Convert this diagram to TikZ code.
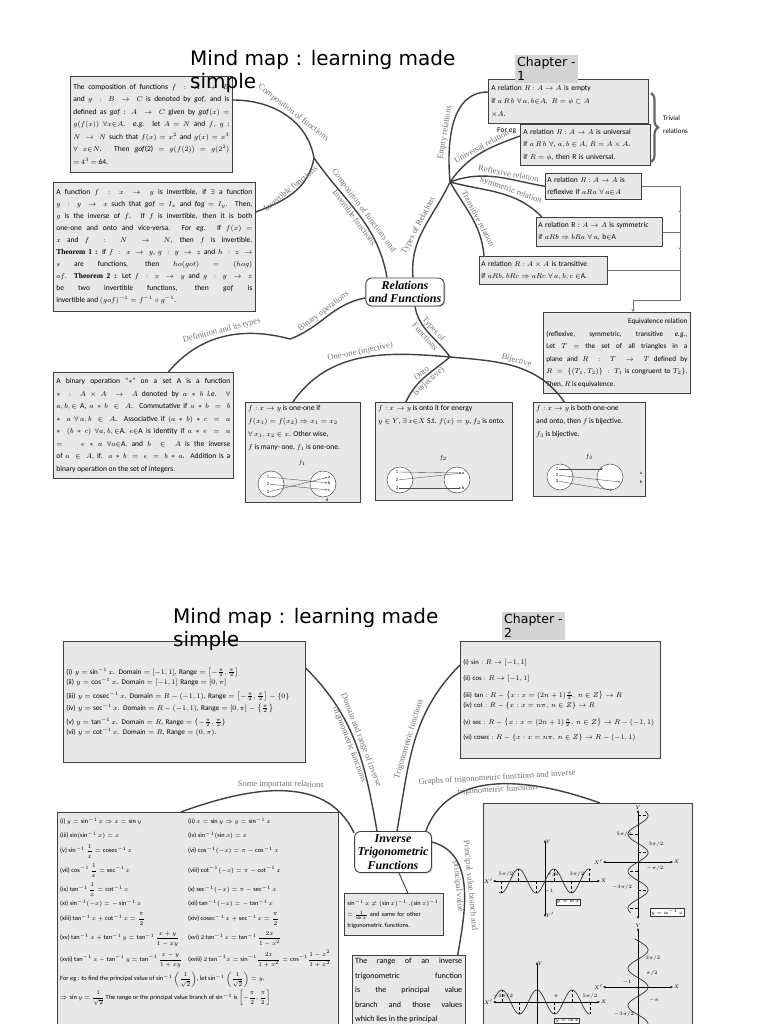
\documentclass[tikz,border=0pt]{standalone}
\usepackage{amsmath, amssymb}
\usepackage{fontspec}
\setmainfont{Carlito}
\newfontfamily\headfont{DejaVu Sans}
\newfontfamily\seriffont{Liberation Serif}
\usetikzlibrary{arrows.meta, positioning, calc, shadows, decorations.pathreplacing}

\tikzset{
  infobox/.style={draw=black!75, fill=black!9, line width=0.7pt, anchor=north west,
    inner sep=3pt, align=left, font=\fontsize{7.5}{12.5}\selectfont},
  panel/.style={draw=black!75, fill=black!9, line width=0.7pt, anchor=north west, inner sep=0pt},
  note/.style={anchor=north west, inner sep=3pt, align=left, font=\fontsize{7.5}{13}\selectfont},
  hub/.style={draw=black!75, fill=white, line width=0.9pt, rounded corners=6pt,
    align=center, inner sep=3pt, font=\seriffont\bfseries\itshape\fontsize{12}{13.5}\selectfont,
    drop shadow={shadow xshift=1.2pt, shadow yshift=-1.2pt, opacity=0.35}},
  branch/.style={draw=black!75, line width=1.4pt},
  blabel/.style={font=\seriffont\fontsize{8.5}{8.5}\selectfont, text=black!55, sloped, inner sep=1.5pt},
  rail/.style={draw=black!55, line width=0.5pt},
  headline/.style={anchor=north west, align=left, inner sep=0pt, font=\headfont\fontsize{20}{23}\selectfont},
  chapter/.style={anchor=north west, align=left, fill=black!17, inner sep=2pt,
    font=\headfont\fontsize{12.5}{14}\selectfont},
  setcirc/.style={draw=black!70, line width=0.5pt, circle, minimum size=26pt, fill=white},
  elem/.style={font=\fontsize{4.5}{4.5}\selectfont, inner sep=0.5pt},
  maparrow/.style={draw=black!70, line width=0.35pt, -{Stealth[length=2pt, width=1.6pt]}},
  axis/.style={draw=black, line width=0.6pt, {Stealth[length=3pt]}-{Stealth[length=3pt]}},
  wave/.style={draw=black!80, line width=0.7pt},
  tick/.style={font=\fontsize{3.5}{3.5}\selectfont, inner sep=0.3pt},
  tagbox/.style={draw=black!80, fill=white, font=\fontsize{3.8}{4}\selectfont, inner sep=1pt},
}

\begin{document}
\begin{tikzpicture}[x=1pt, y=1pt]
\useasboundingbox (0,0) rectangle (768,-1024);
\clip (0,0) rectangle (768,-1024);
\fill[white] (0,0) rectangle (768,-1024);

%% ---------------- Chapter 1 : relations and functions ----------------
\node[hub] (rel) at (405,-292) {Relations\\and Functions};

\coordinate (jcomp) at (314,-158);
\coordinate (jrel) at (450,-182);
\coordinate (jbin) at (290,-339);
\coordinate (jfun) at (450,-357);

% boxes
\node[infobox, align=justify, text width=156pt, minimum height=96pt] (comp) at (70,-76) {%
The composition of functions $f : A\to B$\linebreak
and $g : B \to C$ is denoted by \textit{gof}, and is\linebreak
defined as \textit{gof} : $A\to C$ given by \textit{gof}$(x)$ $=$\linebreak
$g(f(x))$ $\forall x{\in}A$. \textit{e.g.} let $A$ $=$ $N$ and $f$, $g$ :\linebreak
$N\to N$ such that $f(x)$ $=$ $x^2$ and $g(x)$ $=$ $x^3$\linebreak
$\forall$ $x{\in}N$. Then \textit{gof}(2) $=$ $g(f(2))$ $=$ $g(2^2)$\linebreak
$=$ $4^3$ $=$ 64.};

\node[infobox, align=justify, text width=196pt, minimum height=129pt,
  font=\fontsize{7.5}{12}\selectfont] (inv) at (53,-182) {%
A function $f : x\to y$ is invertible, if $\exists$ a function\linebreak
$g : y\to x$ such that \textit{gof} $=$ $I_x$ and \textit{fog} $=$ $I_y$. Then,\linebreak
$g$ is the inverse of $f$. If $f$ is invertible, then it is both\linebreak
one-one and onto and vice-versa. For \textit{eg.} If $f(x)$ $=$\linebreak
$x$ and $f : N\to N$, then $f$ is invertible.\linebreak
{\seriffont\bfseries Theorem 1 :} If $f : x\to y$, $g : y\to z$ and $h : z\to$\linebreak
$s$ are functions, then $ho(got)$ $=$ $(hog)$\linebreak
$of$. {\seriffont\bfseries Theorem 2 :} Let $f : x\to y$ and $g : y\to z$\linebreak
be two invertible functions, then \textit{gof} is\linebreak
invertible and $(gof)^{-1} = f^{-1}\circ g^{-1}$.};

\node[infobox, align=justify, text width=174pt, minimum height=106pt] (binop) at (53,-372) {%
A binary operation ``$*$'' on a set A is a function\linebreak
$* : A\times A\to A$ denoted by $a * b$ \textit{i.e.} $\forall$\linebreak
$a,b,\in$ A, $a*b\in A$. Commutative if $a*b = b$\linebreak
$*\;a$ $\forall\, a,b\in A$. Associative if $(a*b)*c = a$\linebreak
$*\;(b*c)$ $\forall a,b,\in$A. $e{\in}$A is identity if $a*e = a$\linebreak
$=\; e*a$ $\forall a{\in}$A. and $b\in A$ is the inverse\linebreak
of $a\in A$, if. $a*b = e = b*a$. Addition is a\linebreak
binary operation on the set of integers.};

\node[panel, minimum width=115pt, minimum height=100pt] (oneone) at (245,-402) {};
\node[note] (oneonetxt) at (oneone.north west) {%
$f : x\to y$ is one-one if\\
$f(x_1) = f(x_2)\Rightarrow x_1 = x_2$\\
$\forall\, x_1, x_2\in x$. Other wise,\\
$f$ is many- one, $f_1$ is one-one.};
\node[elem, font=\fontsize{6}{6}\selectfont] (fone) at (302,-463) {$f_1$};

\node[panel, minimum width=137pt, minimum height=98pt] (onto) at (375,-402) {};
\node[note] (ontotxt) at (onto.north west) {%
$f : x\to y$ is onto it for energy\\
$y\in Y$, $\exists\, x{\in}X$ S.t. $f(x) = y$, $f_2$ is onto.};
\node[elem, font=\fontsize{6}{6}\selectfont] (ftwo) at (443,-458) {$f_2$};

\node[panel, minimum width=112pt, minimum height=94pt] (bij) at (533,-402) {};
\node[note] (bijtxt) at (bij.north west) {%
$f : x\to y$ is both one-one\\
and onto, then $f$ is bijective.\\
$f_3$ is bijective.};
\node[elem, font=\fontsize{6}{6}\selectfont] (fthree) at (589,-457) {$f_3$};

% mapping pictures
\node[setcirc] (dom1) at (271,-484) {};
\node[setcirc] (cod1) at (323,-484) {};
\node[elem] (o1) at (268,-477) {1};
\node[elem] (o2) at (268,-484) {2};
\node[elem] (o3) at (268,-492) {3};
\node[elem] (ia) at (329,-477) {a};
\node[elem] (ib) at (329,-483) {b};
\node[elem] (ic) at (329,-490) {c};
\node[elem] (id) at (327,-500) {d};
\draw[maparrow] (o1) -- (ib);
\draw[maparrow] (o2) -- (ic);
\draw[maparrow] (o3) -- (ia);

\node[setcirc] (dom2) at (400,-480) {};
\node[setcirc] (cod2) at (457,-480) {};
\node[elem] (p1) at (397,-472) {1};
\node[elem] (p2) at (397,-480) {2};
\node[elem] (p3) at (397,-488) {3};
\node[elem] (qa) at (463,-473) {a};
\node[elem] (qb) at (463,-488) {b};
\draw[maparrow] (p1) -- (qa);
\draw[maparrow] (p2) -- (qa);
\draw[maparrow] (p3) -- (qb);

\node[setcirc] (dom3) at (560,-477) {};
\node[setcirc] (cod3) at (610,-477) {};
\node[elem] (s1) at (557,-469) {1};
\node[elem] (s2) at (557,-475) {2};
\node[elem] (s3) at (557,-481) {3};
\node[elem] (tc) at (611,-490) {c};
\node[elem] (ta) at (641,-473) {a};
\node[elem] (tb) at (641,-482) {b};
\coordinate (u1) at (603,-469);
\coordinate (u2) at (620,-482);
\draw[maparrow] (s1) -- (u1);
\draw[maparrow] (s2) -- (u2);
\draw[maparrow] (s3) -- (tc);

% relations side
\node[infobox, text width=154pt, minimum height=44pt, font=\fontsize{7.5}{13}\selectfont] (empty) at (488,-79) {%
A relation $R : A\to A$ is empty\\
if $a\,R\,b$ $\forall\, a, b{\in} A$. $R = \phi\subset A$\\
$\times A$.};
\node[note, anchor=west, inner sep=0pt] (foreg) at (497,-131) {For eg};
\node[infobox, text width=124pt, minimum height=41pt] (univ) at (520,-124) {%
A relation $R : A\to A$ is universal\\
if $a\,R\,b$ $\forall$, $a,b\in A$, $R = A\times A$.\\
if $R = \phi$, then R is universal.};
\node[note, inner sep=0pt, font=\fontsize{7}{13}\selectfont] (trivial) at (663,-115) {Trivial\\relations};
\draw[decorate, decoration={brace, amplitude=7pt}, line width=2.2pt, black!60] (651,-93) -- (651,-162);

\node[infobox, text width=92pt, minimum height=26pt, inner sep=2pt,
  font=\fontsize{7.5}{12}\selectfont] (refl) at (545,-173) {%
A relation $R : A\to A$ is\\ reflexive if $aRa$ $\forall\, a{\in}A$};
\node[infobox, text width=122pt, minimum height=29pt, inner sep=2pt,
  font=\fontsize{7.5}{12}\selectfont] (symm) at (536,-217) {%
A relation R : $A\to A$ is symmetric\\ if $aRb\Rightarrow bRa$ $\forall\, a$, b$\in$A};
\node[infobox, text width=124pt, minimum height=28pt, inner sep=2pt,
  font=\fontsize{7.5}{12}\selectfont] (trans) at (479,-256) {%
A relation $R : A\times A$ is transitive\\ if $aRb$, $bRc\Rightarrow aRc$ $\forall\, a,b,c\in$A.};
\node[infobox, align=justify, text width=141pt, minimum height=81pt,
  font=\fontsize{7.2}{12.5}\selectfont] (equiv) at (543,-312) {%
\hfil Equivalence relation\hfil\linebreak
(reflexive, symmetric, transitive \textit{e.g.},\linebreak
Let $T$ $=$ the set of all triangles in a\linebreak
plane and $R : T\to T$ defined by\linebreak
$R = \{(T_1, T_2)\} : T_1$ is congruent to $T_2\}$.\linebreak
Then, $R$ is equivalence.};

% rail into the equivalence box
\coordinate (r1) at (680,-213);
\coordinate (r2) at (680,-250);
\coordinate (railend) at (680,-300);
\coordinate (drop) at (633,-300);
\draw[rail, -{Stealth[length=2.5pt, width=2.5pt]}] (refl.east) -| (r1);
\draw[rail, -{Stealth[length=2.5pt, width=2.5pt]}] (r1) -- (r2);
\draw[rail] (r2) -- (railend) -- (drop);
\draw[rail, -{Stealth[length=3pt, width=3pt]}] (drop) -- (drop |- equiv.north);
\draw[rail] (symm.east) -- (symm.east -| r1);
\draw[rail] (trans.east) -- (trans.east -| r1);

% branches
\draw[branch] ([xshift=-18pt]rel.north) to[out=100, in=-55]
  node[blabel, above] {Composition of functions and}
  node[blabel, below] {Invertible functions} (jcomp);
\draw[branch] (jcomp) to[out=100, in=0]
  node[blabel, above, pos=0.45] {Composition of functions} ([yshift=-24pt]comp.north east);
\draw[branch] (jcomp) to[out=-100, in=20]
  node[blabel, above] {Invertible functions} ([yshift=-30pt]inv.north east);
\draw[branch] ([xshift=8pt]rel.north) to[out=95, in=-115]
  node[blabel, above] {Types of Relations} (jrel);
\draw[branch] (jrel) to[out=95, in=180]
  node[blabel, above, pos=0.4] {Empty relations} ([yshift=-13pt]empty.north west);
\draw[branch] (jrel) to[out=55, in=200]
  node[blabel, above, pos=0.55] {Universal relation} ([yshift=-12pt]univ.north west);
\draw[branch] (jrel) to[out=20, in=170]
  node[blabel, above, pos=0.62] {Reflexive relation} (refl.west);
\draw[branch] (jrel) to[out=-15, in=135]
  node[blabel, above, pos=0.6] {Symmetric relation} ([xshift=6pt]symm.north west);
\draw[branch] (jrel) to[out=-60, in=95]
  node[blabel, above, pos=0.55] {Transitive relation} ([xshift=5pt]trans.north west);
\draw[branch] ([yshift=-6pt]rel.west) to[out=190, in=20]
  node[blabel, above] {Binary operations} (jbin);
\draw[branch] (jbin) to[out=165, in=50]
  node[blabel, above] {Definition and its types} ([xshift=25pt]binop.north);
\draw[branch] ([xshift=10pt]rel.south) to[out=-80, in=125]
  node[blabel, above] {Types of}
  node[blabel, below] {Functions} (jfun);
\draw[branch] (jfun) to[out=175, in=55]
  node[blabel, above] {One-one (injective)} ([xshift=-10pt]oneone.north);
\draw[branch] (jfun) to[out=-140, in=65]
  node[blabel, above] {Onto}
  node[blabel, below] {(surjective)} ([xshift=-38pt]onto.north);
\draw[branch] (jfun) to[out=-5, in=125]
  node[blabel, above] {Bijective} ([xshift=-25pt]bij.north);

\node[headline] (title1) at (190,-50) {Mind map : learning made\\simple};
\node[chapter] (chap1) at (515,-55) {Chapter -\\1};

%% ---------------- Chapter 2 : inverse trigonometric functions ----------------
\node[hub] (trig) at (393,-852) {Inverse\\Trigonometric\\Functions};

\node[infobox, text width=236pt, minimum height=121pt, font=\fontsize{7.2}{9}\selectfont] (dombox) at (63,-641) {%
(i) $y=\sin^{-1}x$. Domain $=[-1,1]$, Range $=\left[-\frac{\pi}{2},\frac{\pi}{2}\right]$\\[1pt]
(ii) $y=\cos^{-1}x$. Domain $=[-1,1]$ Range $=[0,\pi]$\\[5pt]
(iii) $y=\operatorname{cosec}^{-1}x$. Domain $=R-(-1,1)$, Range $=\left[-\frac{\pi}{2},\frac{\pi}{2}\right]-\{0\}$\\[3pt]
(iv) $y=\sec^{-1}x$. Domain $=R-(-1,1)$, Range $=[0,\pi]-\left\{\frac{\pi}{2}\right\}$\\[5pt]
(v) $y=\tan^{-1}x$. Domain $=R$, Range $=\left(-\frac{\pi}{2},\frac{\pi}{2}\right)$\\[1pt]
(vi) $y=\cot^{-1}x$. Domain $=R$, Range $=(0,\pi)$.};

\node[infobox, text width=194pt, minimum height=117pt, font=\fontsize{6.7}{9}\selectfont] (trigfun) at (460,-641) {%
(i) $\sin : R\to[-1,1]$\\[7pt]
(ii) $\cos : R\to[-1,1]$\\[8pt]
(iii) $\tan : R-\left\{x : x=(2n+1)\frac{\pi}{2},\, n\in Z\right\}\to R$\\[1pt]
(iv) $\cot : R-\{x : x=n\pi,\, n\in Z\}\to R$\\[8pt]
(v) $\sec : R-\left\{x : x=(2n+1)\frac{\pi}{2},\, n\in Z\right\}\to R-(-1,1)$\\[6pt]
(vi) $\operatorname{cosec} : R-\{x : x=n\pi,\, n\in Z\}\to R-(-1,1)$};

\node[infobox, text width=93pt, minimum height=42pt, font=\fontsize{6.3}{11}\selectfont] (invbox) at (344,-893) {%
$\sin^{-1}x\neq(\sin x)^{-1}$ .$(\sin x)^{-1}$\\
$=\frac{1}{\sin x}$ and same for other\\
trigonometric functions.};

\node[panel, minimum width=113pt, minimum height=95pt] (rangebox) at (352,-955) {};
\node[note, align=justify, text width=107pt, font=\fontsize{8}{14.5}\selectfont] (rangetxt) at (rangebox.north west) {%
The range of an inverse\linebreak
trigonometric function\linebreak
is the principal value\linebreak
branch and those values\linebreak
which lies in the principal};

\node[panel, minimum width=281pt, minimum height=240pt] (impbox) at (57,-812) {};
\node[note, font=\fontsize{6.4}{8}\selectfont] (imptxt) at (impbox.north west) {%
\renewcommand{\arraystretch}{1.5}%
\begin{tabular}{@{}l@{\hspace{2pt}}l@{}}
\makebox[126pt][l]{(i) $y=\sin^{-1}x\Rightarrow x=\sin y$} & (ii) $x=\sin y\Rightarrow y=\sin^{-1}x$\\[2pt]
(iii) $\sin(\sin^{-1}x)=x$ & (iv) $\sin^{-1}(\sin x)=x$\\[3pt]
(v) $\sin^{-1}\dfrac{1}{x}=\operatorname{cosec}^{-1}x$ & (vi) $\cos^{-1}(-x)=\pi-\cos^{-1}x$\\[7pt]
(vii) $\cos^{-1}\dfrac{1}{x}=\sec^{-1}x$ & (viii) $\cot^{-1}(-x)=\pi-\cot^{-1}x$\\[7pt]
(ix) $\tan^{-1}\dfrac{1}{x}=\cot^{-1}x$ & (x) $\sec^{-1}(-x)=\pi-\sec^{-1}x$\\[2pt]
(xi) $\sin^{-1}(-x)=-\sin^{-1}x$ & (xii) $\tan^{-1}(-x)=-\tan^{-1}x$\\[3pt]
(xiii) $\tan^{-1}x+\cot^{-1}x=\dfrac{\pi}{2}$ & (xiv) $\operatorname{cosec}^{-1}x+\sec^{-1}x=\dfrac{\pi}{2}$\\[7pt]
(xv) $\tan^{-1}x+\tan^{-1}y=\tan^{-1}\dfrac{x+y}{1-xy}$ & (xvi) $2\tan^{-1}x=\tan^{-1}\dfrac{2x}{1-x^2}$\\[7pt]
(xvii) $\tan^{-1}x-\tan^{-1}y=\tan^{-1}\dfrac{x-y}{1+xy}$ & (xviii) $2\tan^{-1}\!x=\sin^{-1}\!\dfrac{2x}{1+x^2}=\cos^{-1}\!\dfrac{1-x^2}{1+x^2}$\\[7pt]
\multicolumn{2}{@{}l@{}}{For eg : to find the principal value of $\sin^{-1}\left(\dfrac{1}{\sqrt{2}}\right)$, let $\sin^{-1}\left(\dfrac{1}{\sqrt{2}}\right)=y$.}\\[6pt]
\multicolumn{2}{@{}l@{}}{$\Rightarrow\sin y=\dfrac{1}{\sqrt{2}}$ The range or the principal value branch of $\sin^{-1}$ is $\left[-\dfrac{\pi}{2},\dfrac{\pi}{2}\right]$}
\end{tabular}};

\node[panel, minimum width=209pt, minimum height=240pt] (graphbox) at (483,-803) {};

% graph of sin x
\draw[axis] (493,-881) -- (600,-881);
\draw[axis] (545,-840) -- (545,-917);
\draw[wave] plot[domain=-8.2:8.2, samples=100] ({545+5.6*\x},{-881+12*sin(\x r)});
\foreach \k in {-5,-3,-1,1,3,5}
  \draw[densely dashed, line width=0.5pt] ({545+5.6*\k*pi/2},-881) -- ({545+5.6*\k*pi/2},{-881+12*sin(\k*90)});
\node[tick, left] (ax1) at (493,-881) {$X'$};
\node[tick, right] (ax2) at (600,-881) {$X$};
\node[tick, right] (ax3) at (545,-842) {$Y$};
\node[tick, right] (ax4) at (545,-915) {$Y'$};
\node[tick] (la1) at (506,-874) {$5\pi/2$};
\node[tick] (la3) at (553,-874) {$\pi/2$};
\node[tick] (la4) at (577,-874) {$3\pi/2$};
\node[tick] (la5) at (549,-891) {$-1$};
\node[tagbox] (tagA) at (568,-902) {$y=\sin x$};

% graph of inverse sine
\draw[axis] (603,-862) -- (673,-862);
\draw[axis] (638,-810) -- (638,-919);
\draw[wave] plot[domain=-8.6:8.6, samples=100] ({638+10*sin(\x r)},{-862+5.9*\x});
\foreach \k in {-5,-3,-1,1,3,5}
  \draw[densely dashed, line width=0.5pt] (638,{-862+5.9*\k*pi/2}) -- ({638+10*sin(\k*90)},{-862+5.9*\k*pi/2});
\node[tick, left] (bx1) at (603,-862) {$X'$};
\node[tick, right] (bx2) at (673,-862) {$X$};
\node[tick, above] (bx3) at (638,-810) {$Y$};
\node[tick] (lb1) at (624,-834) {$5\pi/2$};
\node[tick] (lb2) at (656,-844) {$3\pi/2$};
\node[tick] (lb4) at (655,-868) {$-\pi/2$};
\node[tick] (lb5) at (622,-887) {$-3\pi/2$};
\node[tagbox] (tagB) at (667,-912) {$y=\sin^{-1}x$};

% graph of cos x
\draw[axis] (493,-1002) -- (600,-1002);
\draw[axis] (537,-962) -- (537,-1030);
\draw[wave] plot[domain=-7.6:9.4, samples=100] ({537+5.6*\x},{-1002+12*cos(\x r)});
\foreach \k in {-2,-1,1,2,3}
  \draw[densely dashed, line width=0.5pt] ({537+5.6*\k*pi},-1002) -- ({537+5.6*\k*pi},{-1002+12*cos(\k*180)});
\node[tick, left] (cx1) at (493,-1002) {$X'$};
\node[tick, right] (cx2) at (600,-1002) {$X$};
\node[tick, right] (cx3) at (537,-964) {$Y$};
\node[tick] (lc1) at (503,-996) {$-3\pi/2$};
\node[tick] (lc3) at (556,-996) {$\pi$};
\node[tick] (lc4) at (590,-996) {$5\pi/2$};
\node[tagbox] (tagC) at (567,-1021) {$y=\cos x$};

% graph of inverse cosine
\draw[axis] (603,-987) -- (673,-987);
\draw[axis] (638,-928) -- (638,-1030);
\draw[wave] plot[domain=-7:8.2, samples=100] ({638+10*cos(\x r)},{-987+5.9*\x});
\node[tick, left] (dx1) at (603,-987) {$X'$};
\node[tick, right] (dx2) at (673,-987) {$X$};
\node[tick, above] (dx3) at (638,-928) {$Y$};
\node[tick] (ld1) at (653,-958) {$3\pi/2$};
\node[tick] (ld2) at (652,-973) {$\pi/2$};
\node[tick] (ld3) at (627,-982) {$-1$};
\node[tick] (ld5) at (654,-1000) {$-\pi$};
\node[tick] (ld6) at (624,-1014) {$-3\pi/2$};

% branches
\draw[branch] ([xshift=-16pt]trig.north) to[out=100, in=-45]
  node[blabel, above] {Domain and range of inverse}
  node[blabel, below] {trigonometric functions} ([yshift=-27pt]dombox.north east);
\draw[branch] ([xshift=4pt]trig.north) to[out=80, in=225]
  node[blabel, above] {Trigonometric functions} ([yshift=-24pt]trigfun.north west);
\draw[branch] ([yshift=-2pt]trig.north west) to[out=115, in=20]
  node[blabel, above] {Some important relations} ([xshift=-17pt]impbox.north);
\draw[branch] ([xshift=-6pt]trig.north east) to[out=70, in=160]
  node[blabel, above] {Graphs of trigonometric functions and inverse}
  node[blabel, below] {trigonometric functions} ([xshift=12pt]graphbox.north);
\draw[branch] ([yshift=10pt]trig.east) to[out=-15, in=80]
  node[blabel, above] {Principal value branch and}
  node[blabel, below] {principal value} ([xshift=-8pt]rangebox.north east);
\draw[branch, line width=0.9pt] ([xshift=6pt]trig.south) -- ([xshift=14pt]invbox.north);

\node[headline] (title2) at (173,-608) {Mind map : learning made\\simple};
\node[chapter] (chap2) at (502,-612) {Chapter -\\2};
\end{tikzpicture}
\end{document}
